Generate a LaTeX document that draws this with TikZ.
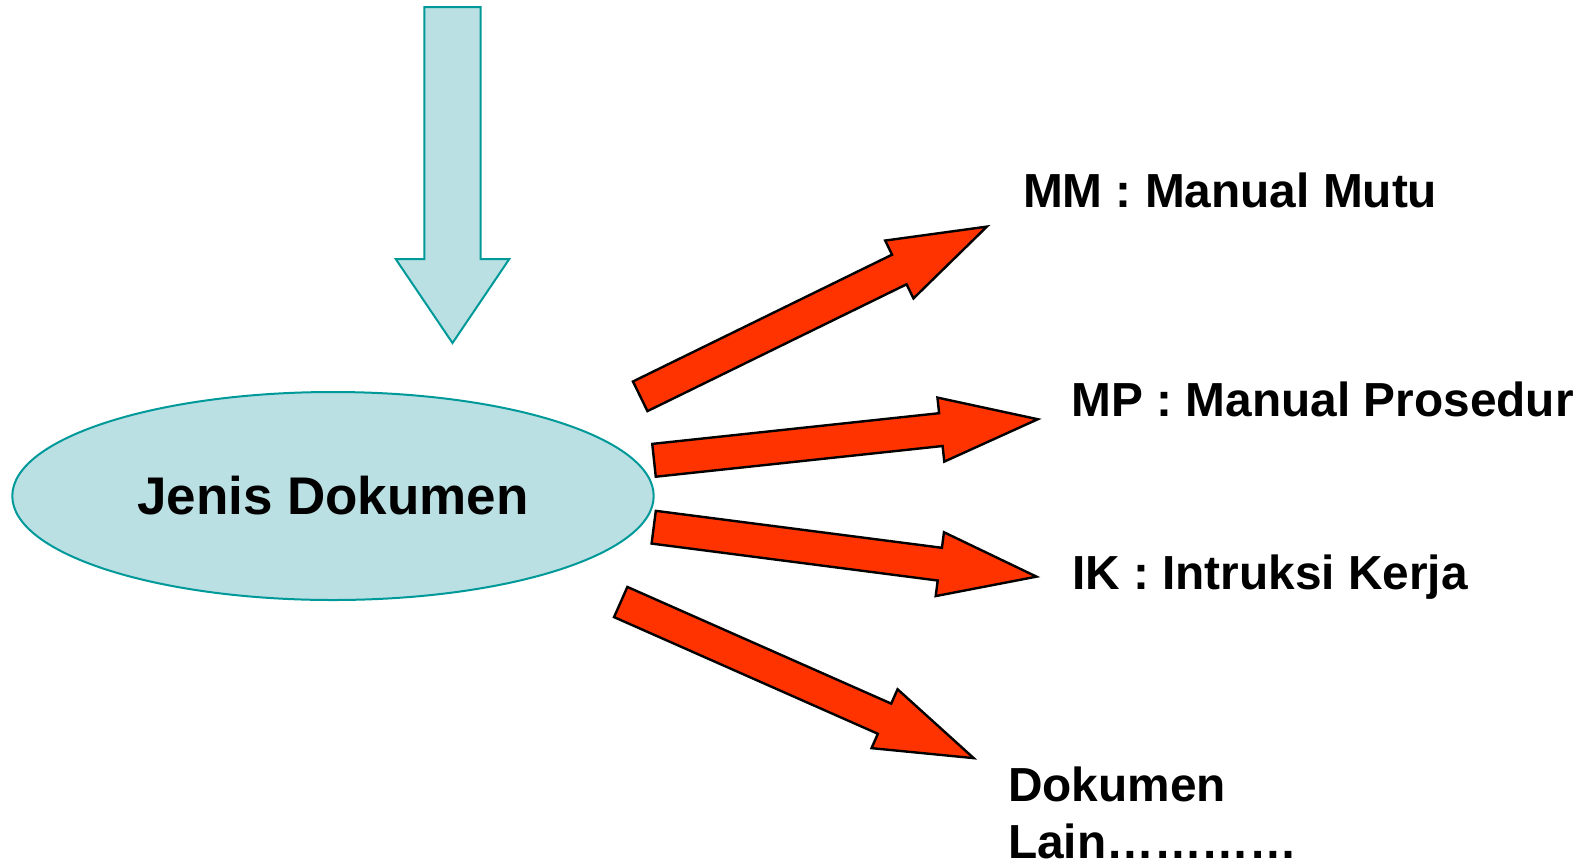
\documentclass[tikz,border=0pt]{standalone}
\usepackage{fontspec}
\setmainfont{Liberation Sans}
\usetikzlibrary{shapes.geometric}
\definecolor{lightcyan}{RGB}{186,224,227}
\definecolor{tealline}{RGB}{0,153,153}
\definecolor{arrowred}{RGB}{255,51,0}
\tikzset{
  redarrowstyle/.style={fill=arrowred, draw=black, line width=2.4pt, line join=miter},
  redarrow/.pic={\path[redarrowstyle] (0,-16.5) -- (288.5,-16.5) -- (288.5,-32.2) -- (386,0) -- (288.5,32.2) -- (288.5,16.5) -- (0,16.5) -- cycle;},
  lbl/.style={inner sep=0pt, outer sep=0pt, font=\fontsize{47.8}{56.6}\selectfont\bfseries, anchor=base west},
  bigoval/.style={ellipse, fill=lightcyan, draw=tealline, line width=2pt, minimum width=641.4pt, minimum height=208pt, inner sep=0pt, font=\fontsize{53}{63}\selectfont\bfseries},
  downarrow/.style={fill=lightcyan, draw=tealline, line width=2pt, line join=miter}
}
\begin{document}
\begin{tikzpicture}[x=1pt, y=-1pt]
\useasboundingbox (0,0) rectangle (1589,865);
% down arrow
\path[downarrow] (424.3,7) -- (480.7,7) -- (480.7,259) -- (509.3,259) -- (452.5,343) -- (395.7,259) -- (424.3,259) -- cycle;
% ellipse
\node[bigoval] (jd) at (333,496) {Jenis Dokumen};
% red arrows
\pic[rotate=26.08] at (640.2,396.3) {redarrow};
\pic[rotate=6.11] at (654,460.3) {redarrow};
\pic[rotate=-7.36] at (653.7,527.2) {redarrow};
\pic[rotate=-23.86] at (620.7,602) {redarrow};
% labels
\node[lbl] (mm) at (1023,207.7) {MM : Manual Mutu};
\node[lbl] (mp) at (1071.7,416.7) {MP : Manual Prosedur};
\node[lbl] (ik) at (1072,589.5) {IK : Intruksi Kerja};
\node[lbl, align=left] (dl) at (1008,858.3) {Dokumen\\Lain…………};
\end{tikzpicture}
\end{document}
